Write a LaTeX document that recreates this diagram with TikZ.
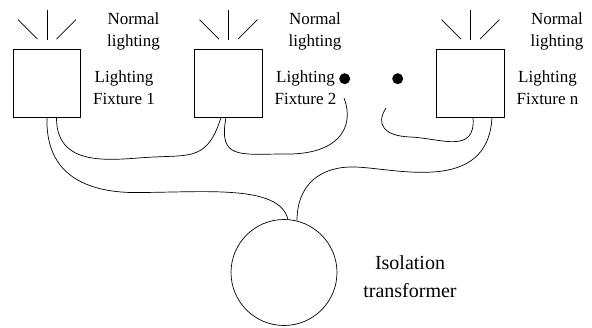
\documentclass[tikz,border=0pt]{standalone}
\usepackage{fontspec}
\setmainfont{Liberation Serif}

\begin{document}
\begin{tikzpicture}
  [x=1pt,y=-1pt,line width=.7pt,
   lamp/.style={draw,inner sep=0pt,minimum size=67.5pt},
   transformer/.style={circle,draw,inner sep=0pt,minimum size=106pt},
   dot/.style={circle,fill=black,inner sep=0pt,minimum size=11pt},
   label/.style={align=center,inner sep=0pt,font=\fontsize{17}{22}\selectfont},
   biglabel/.style={align=center,inner sep=0pt,font=\fontsize{20}{27.5}\selectfont}]
  \useasboundingbox (0,0) rectangle (592,327);

  \node[lamp] (box1) at (47,83.25) {};
  \node[lamp] (box2) at (228.5,83.25) {};
  \node[lamp] (box3) at (470.5,83.25) {};
  \node[transformer] (iso) at (284,272.5) {};
  \node[dot] (dot1) at (344.7,78.7) {};
  \node[dot] (dot2) at (397.7,78.7) {};

  \node[label] (normal1) at (133.5,31.5) {Normal\\lighting};
  \node[label] (normal2) at (315,31.5) {Normal\\lighting};
  \node[label] (normal3) at (557,31.5) {Normal\\lighting};
  \node[label] (fixture1) at (124,88) {Lighting\\Fixture 1};
  \node[label] (fixture2) at (305.5,88) {Lighting\\Fixture 2};
  \node[label] (fixturen) at (547.5,88) {Lighting\\Fixture n};
  \node[biglabel] (isolabel) at (410,276.5) {Isolation\\transformer};

  % rays above each fixture
  \foreach \b in {box1,box2,box3} {
    \draw ([yshift=9.5pt]\b.north) -- ([yshift=39.5pt]\b.north);
    \draw ([xshift=-9.5pt,yshift=10pt]\b.north) -- ([xshift=-29pt,yshift=29.5pt]\b.north);
    \draw ([xshift=9.5pt,yshift=10pt]\b.north) -- ([xshift=29pt,yshift=29.5pt]\b.north);
  }

  \coordinate (end2) at (344,98);
  \coordinate (end3) at (386,108);
  \coordinate (isoa) at (288,219.8);
  \coordinate (isob) at (297,220.6);

  % wires
  \draw (box1.south) .. controls (46,150) and (58,190) .. (130,192.5)
    .. controls (200,193) and (280,183) .. (isoa);
  \draw (isob) .. controls (297,185) and (320,166) .. (355,167)
    .. controls (395,168) and (488,195) .. ([xshift=21.5pt]box3.south);
  \draw ([xshift=9.5pt]box1.south) .. controls (56,172) and (120,158) .. (155,157)
    .. controls (190,155) and (208,160) .. ([xshift=-7.5pt]box2.south);
  \draw ([xshift=-2.5pt]box2.south) .. controls (218,160) and (240,154) .. (285,154)
    .. controls (335,155) and (356,130) .. (end2);
  \draw (end3) .. controls (375,125) and (385,136) .. (410,137)
    .. controls (440,138) and (476,155) .. ([xshift=2.5pt]box3.south);
\end{tikzpicture}
\end{document}
